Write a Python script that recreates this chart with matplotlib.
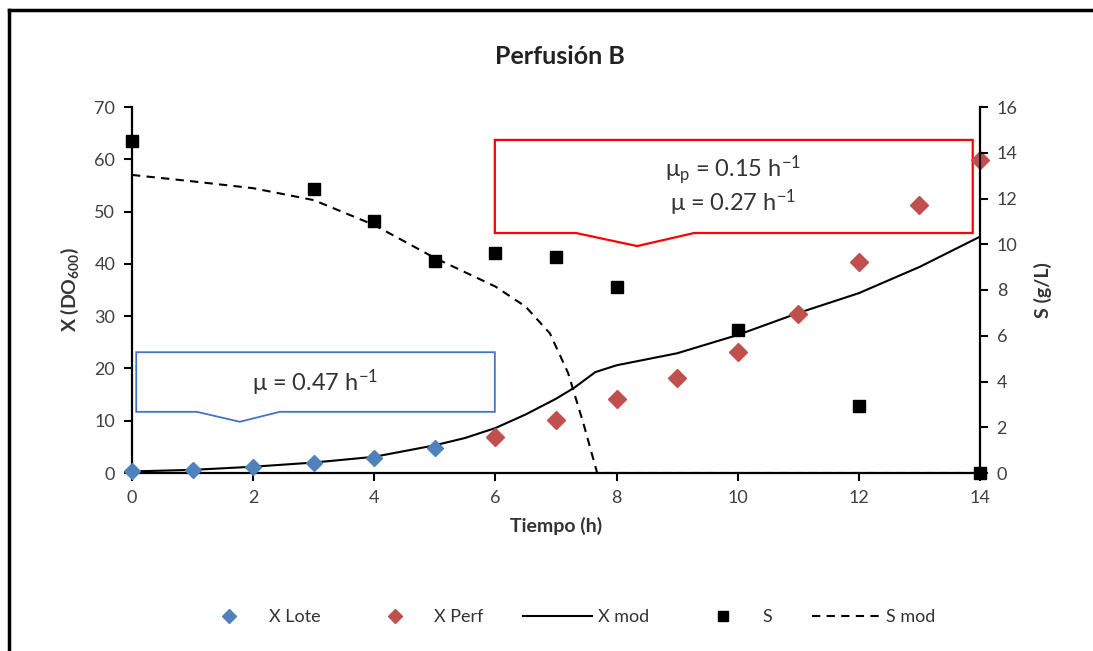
import matplotlib
matplotlib.use("Agg")
import matplotlib.pyplot as plt
from matplotlib.patches import Polygon
from matplotlib.lines import Line2D

plt.rcParams['font.family'] = ['Lato', 'DejaVu Sans']
plt.rcParams['mathtext.default'] = 'regular'

# datos
t_lote = [0, 1, 2, 3, 4, 5]
x_lote = [0.3, 0.6, 1.1, 1.9, 2.8, 4.8]

t_perf = [6, 7, 8, 9, 10, 11, 12, 13, 14]
x_perf = [6.9, 10.1, 14.1, 18.1, 23.2, 30.5, 40.3, 51.2, 59.8]

t_xmod = [0, 1, 2, 3, 4, 5, 5.5, 6, 6.5, 7, 7.3, 7.65, 8, 9, 10, 11, 12, 13, 14]
x_mod = [0.3, 0.6, 1.2, 2.0, 3.1, 5.3, 6.7, 8.6, 11.2, 14.2, 16.3, 19.3, 20.6, 22.9, 26.4, 30.6, 34.4, 39.4, 45.2]

t_s = [0, 3, 4, 5, 6, 7, 8, 10, 12, 14]
s_exp = [14.5, 12.4, 11.0, 9.25, 9.6, 9.45, 8.15, 6.25, 2.95, 0.0]

t_smod = [0, 1, 2, 3, 4, 5, 6, 6.5, 6.9, 7.2, 7.45, 7.68, 8, 10, 12, 14]
s_mod = [13.03, 12.75, 12.45, 11.93, 10.84, 9.4, 8.15, 7.27, 6.1, 4.37, 2.19, 0.0, 0.0, 0.0, 0.0, 0.0]

fig = plt.figure(figsize=(10.93, 6.51), dpi=100)
ax = fig.add_axes([132 / 1093, 1 - 473 / 651, 848 / 1093, 366 / 651])
ax2 = ax.twinx()

# marco exterior (solo izquierda y arriba visibles)
fig.add_artist(Line2D([9 / 1093, 9 / 1093], [0, 1 - 10 / 651], color='black',
                      lw=2.5, transform=fig.transFigure))
fig.add_artist(Line2D([9 / 1093, 1], [1 - 10 / 651, 1 - 10 / 651], color='black',
                      lw=2.5, transform=fig.transFigure))

ax.plot(t_xmod, x_mod, color='black', lw=1.5, zorder=3)
ax.plot(t_lote, x_lote, 'D', color='#4F81BD', ms=8, mec='#4F81BD', zorder=4, clip_on=False)
ax.plot(t_perf, x_perf, 'D', color='#C0504D', ms=9, mec='#C0504D', zorder=4, clip_on=False)
ax2.plot(t_smod, s_mod, color='black', lw=1.5, dashes=(4, 3), zorder=3)
ax2.plot(t_s, s_exp, 's', color='black', ms=9, zorder=4, clip_on=False)

ax.set_xlim(0, 14)
ax.set_ylim(0, 70)
ax2.set_ylim(0, 16)
ax.set_xticks(range(0, 15, 2))
ax.set_yticks(range(0, 71, 10))
ax2.set_yticks(range(0, 17, 2))

for a in (ax, ax2):
    a.spines['top'].set_visible(False)
    for s in a.spines.values():
        s.set_linewidth(1.6)
    a.tick_params(direction='out', length=6, width=1.5, labelsize=13,
                  labelcolor='#404040', pad=6)
ax.spines['right'].set_visible(False)
ax2.spines['left'].set_visible(False)
ax2.spines['bottom'].set_visible(False)

ax.set_xlabel('Tiempo (h)', fontsize=14, fontweight='bold', color='#333333', labelpad=8)
ax.set_ylabel('X (DO$_{600}$)', fontsize=14, fontweight='bold', color='#333333', labelpad=10)
ax2.set_ylabel('S (g/L)', fontsize=14, fontweight='bold', color='#333333', labelpad=12)
fig.text(560 / 1093, 1 - 57 / 651, 'Perfusión B', fontsize=18, fontweight='bold',
         color='#222222', ha='center', va='center')

# cuadros de anotación
red_box = [(5.99, 63.7), (13.88, 63.7), (13.88, 45.9), (9.28, 45.9),
           (8.34, 43.4), (7.33, 45.9), (5.99, 45.9)]
ax.add_patch(Polygon(red_box, closed=True, fill=False, edgecolor='#FF0000',
                     lw=1.6, clip_on=False, zorder=2))
blue_box = [(0.07, 23.1), (5.99, 23.1), (5.99, 11.7), (2.44, 11.7),
            (1.78, 9.8), (1.07, 11.7), (0.07, 11.7)]
ax.add_patch(Polygon(blue_box, closed=True, fill=False, edgecolor='#4472C4',
                     lw=1.3, clip_on=False, zorder=2))

ax.text(9.92, 57.9, 'μ$_p$ = 0.15 h$^{-1}$', fontsize=17,
        ha='center', va='center', color='#333333')
ax.text(9.92, 51.6, 'μ = 0.27 h$^{-1}$', fontsize=17,
        ha='center', va='center', color='#333333')
ax.text(3.02, 17.2, 'μ = 0.47 h$^{-1}$', fontsize=17,
        ha='center', va='center', color='#333333')

handles = [
    Line2D([], [], ls='none', marker='D', color='#4F81BD', ms=7),
    Line2D([], [], ls='none', marker='D', color='#C0504D', ms=7),
    Line2D([], [], color='black', lw=1.5),
    Line2D([], [], ls='none', marker='s', color='black', ms=7),
    Line2D([], [], color='black', lw=1.5, dashes=(4, 3)),
]
labels = ['X Lote', 'X Perf', 'X mod', 'S', 'S mod']
fig.legend(handles, labels, loc='center', bbox_to_anchor=(565 / 1093, 1 - 617 / 651),
           ncol=5, frameon=False, fontsize=13, handlelength=3.8, handletextpad=0.3,
           columnspacing=2.2, labelcolor='#333333')

fig.savefig('out.png', dpi=100)
